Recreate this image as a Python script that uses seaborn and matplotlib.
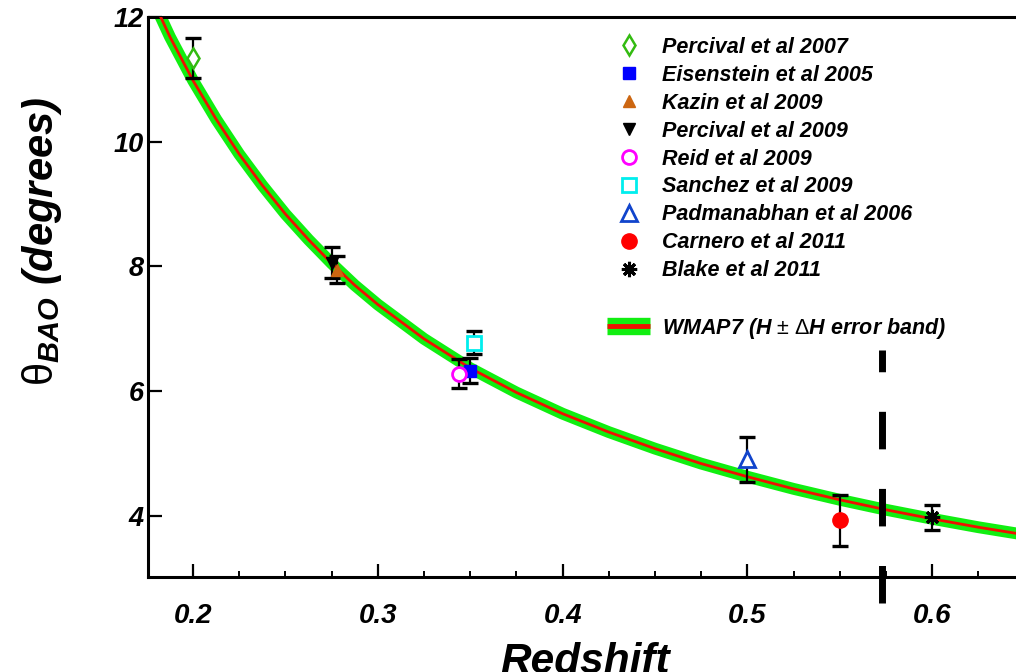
import matplotlib
matplotlib.use("Agg")
import matplotlib.pyplot as plt
from matplotlib.lines import Line2D
from matplotlib.legend_handler import HandlerTuple
from matplotlib.ticker import MultipleLocator
import seaborn as sns
import pandas as pd

# ---------------- data ----------------
curve_z = [0.1756, 0.1875, 0.2, 0.2125, 0.225, 0.2375, 0.25, 0.2625, 0.275, 0.2875,
           0.3, 0.325, 0.35, 0.375, 0.4, 0.425, 0.45, 0.475, 0.5, 0.525, 0.55,
           0.575, 0.6, 0.625, 0.65, 0.6625]
curve_theta = [12.44, 11.68, 10.98, 10.36, 9.80, 9.30, 8.84, 8.43, 8.05, 7.70,
               7.39, 6.84, 6.37, 5.98, 5.64, 5.345, 5.08, 4.84, 4.63, 4.435, 4.26,
               4.10, 3.955, 3.82, 3.70, 3.64]

labels = ["Percival et al 2007", "Eisenstein et al 2005", "Kazin et al 2009",
          "Percival et al 2009", "Reid et al 2009", "Sanchez et al 2009",
          "Padmanabhan et al 2006", "Carnero et al 2011", "Blake et al 2011"]
z_pts = [0.2, 0.35, 0.278, 0.275, 0.344, 0.352, 0.5, 0.55, 0.6]
theta_pts = [11.35, 6.33, 7.95, 8.06, 6.28, 6.78, 4.91, 3.93, 3.98]
theta_err = [0.32, 0.20, 0.22, 0.25, 0.23, 0.18, 0.36, 0.41, 0.20]

band_label = "WMAP7 (H $\\mathrm{\\pm}$ $\\mathrm{\\Delta}$H error band)"
z_line = 0.573
x_ticks = [0.2, 0.3, 0.4, 0.5, 0.6]
y_ticks = [4, 6, 8, 10, 12]

# ---------------- styles ----------------
styles = [
    dict(marker="d", color="#33bb11", mfc="white", ms=10, mew=1.8),
    dict(marker="s", color="#0000ff", mfc="#0000ff", ms=9, mew=1),
    dict(marker="^", color="#cc6611", mfc="#cc6611", ms=9, mew=1),
    dict(marker="v", color="black", mfc="black", ms=9, mew=1),
    dict(marker="o", color="#ff00ff", mfc="white", ms=10, mew=2),
    dict(marker="s", color="#00eeee", mfc="white", ms=10, mew=2),
    dict(marker="^", color="#1144cc", mfc="white", ms=11, mew=2),
    dict(marker="o", color="#ff0000", mfc="#ff0000", ms=11, mew=1),
    dict(marker=(8, 2, 0), color="black", mfc="black", ms=11, mew=2.2),
]

sns.set_theme(style="white")
plt.rcParams.update({
    "font.family": ["Liberation Sans", "DejaVu Sans"],
    "mathtext.fontset": "custom",
    "mathtext.rm": "Liberation Sans",
    "mathtext.it": "Liberation Sans:bold:italic",
    "mathtext.bf": "Liberation Sans:bold",
    "axes.edgecolor": "black",
    "axes.linewidth": 2.2,
    "text.color": "black",
    "axes.labelcolor": "black",
    "xtick.color": "black",
    "ytick.color": "black",
})
BI = dict(fontweight="bold", fontstyle="italic")

fig = plt.figure(figsize=(10.16, 6.72), dpi=100)
ax = fig.add_axes([148 / 1016, 95 / 672, 895 / 1016, 560 / 672])
ax.spines["right"].set_visible(False)

df = pd.DataFrame({"z": curve_z, "theta": curve_theta})
sns.lineplot(data=df, x="z", y="theta", ax=ax, color="#11ee11", lw=8.5,
             solid_capstyle="butt", zorder=2)
sns.lineplot(data=df, x="z", y="theta", ax=ax, color="#ee1100", lw=2.0, zorder=3)

for z, t, e in zip(z_pts, theta_pts, theta_err):
    ax.errorbar([z], [t], yerr=[e], fmt="none", ecolor="black", elinewidth=1.6,
                capsize=6, capthick=2.4, zorder=4)
for z, t, st in zip(z_pts, theta_pts, styles):
    ax.plot([z], [t], linestyle="none", marker=st["marker"], color=st["color"],
            mfc=st["mfc"], mec=st["color"], ms=st["ms"], mew=st["mew"], zorder=5)

# vertical dashed line (extends below the axis)
y_bot = 3.022 - (603 - 577) / 62.4
y_top = 12 - (350 - 17) / 62.4
ax.plot([z_line, z_line], [y_bot, y_top], color="black", lw=5,
        dashes=(5.4, 5.7), dash_capstyle="butt", clip_on=False, zorder=6)

ax.set_xlim(0.1756, 0.66)
ax.set_ylim(3.022, 12.0)
ax.set_xticks(x_ticks)
ax.set_xticklabels([f"{v:.1f}" for v in x_ticks], **BI)
ax.set_yticks(y_ticks)
ax.set_yticklabels([str(v) for v in y_ticks], **BI)
ax.xaxis.set_minor_locator(MultipleLocator(0.025))
ax.tick_params(axis="x", which="major", direction="in", length=9.5, width=1.6,
               labelsize=20, pad=19, bottom=True, top=False)
ax.tick_params(axis="x", which="minor", direction="in", length=4.5, width=1.4,
               bottom=True, top=False)
ax.tick_params(axis="y", which="major", direction="in", length=10, width=1.6,
               labelsize=19.5, pad=3, left=True, right=False)
ax.grid(False)

ax.set_xlabel("Redshift", fontsize=30.5, **BI)
ax.set_ylabel("$\\mathrm{\\theta}_{\\mathit{BAO}}$ (degrees)", fontsize=30, **BI)
ax.xaxis.set_label_coords((585 - 148) / 895, (577 - 642) / 560)
ax.yaxis.set_label_coords((64 - 148) / 895, (577 - 241) / 560)

# legend
handles = []
for st in styles:
    handles.append(Line2D([], [], linestyle="none", marker=st["marker"], color=st["color"],
                          mfc=st["mfc"], mec=st["color"], ms=st["ms"], mew=st["mew"]))
blank = Line2D([], [], linestyle="none")
band = (Line2D([], [], color="#11ee11", lw=12.5, solid_capstyle="butt"),
        Line2D([], [], color="#ee1100", lw=3.5, solid_capstyle="butt"))
leg = ax.legend(handles + [blank, band], labels + [" ", band_label],
                handler_map={tuple: HandlerTuple(ndivide=1)},
                loc="upper left", bbox_to_anchor=(607 / 1016, 1 - 37 / 672),
                bbox_transform=fig.transFigure, frameon=False,
                prop=dict(size=15.5, weight="bold", style="italic"),
                handlelength=2.0, handletextpad=0.55, labelspacing=0.32,
                borderpad=0, borderaxespad=0)

fig.text(77 / 1016, 1 - 671 / 672, "0.255", fontsize=20, va="top", ha="left", **BI)

fig.savefig("out.png", dpi=100)
